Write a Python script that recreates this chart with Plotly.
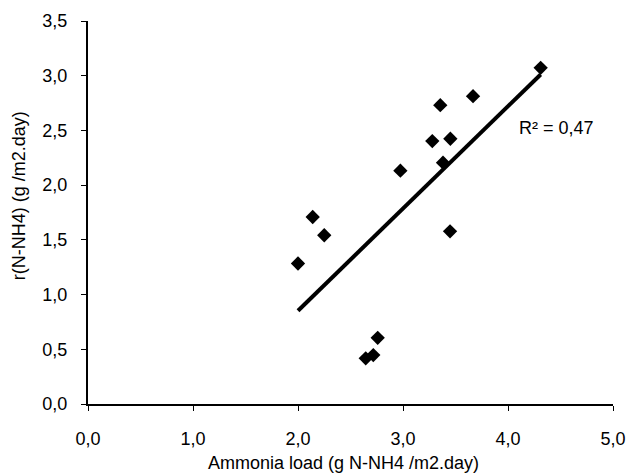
import numpy as np
import plotly.graph_objects as go

# Ammonia load (g N-NH4 /m2.day) and removal rate r(N-NH4) (g /m2.day)
ammonia_load = [2.00, 2.14, 2.25, 2.645, 2.717, 2.759, 2.975, 3.279, 3.355, 3.381, 3.451, 3.448, 3.667, 4.311]
removal_rate = [1.284, 1.709, 1.542, 0.417, 0.447, 0.605, 2.132, 2.403, 2.731, 2.205, 2.424, 1.578, 2.813, 3.072]

x_ticks = [0, 1, 2, 3, 4, 5]
y_ticks = [0, 0.5, 1.0, 1.5, 2.0, 2.5, 3.0, 3.5]

x_title = "Ammonia load (g N-NH4 /m2.day)"
y_title = "r(N-NH4) (g /m2.day)"

x = np.array(ammonia_load)
y = np.array(removal_rate)

# Linear trend line and coefficient of determination
slope, intercept = np.polyfit(x, y, 1)
pred = slope * x + intercept
r2 = 1 - np.sum((y - pred) ** 2) / np.sum((y - y.mean()) ** 2)
x_fit = np.array([x.min(), x.max()])
y_fit = slope * x_fit + intercept

FONT = "Liberation Sans, Arial, sans-serif"
TXT = dict(family=FONT, size=18, color="black")

fig = go.Figure()
fig.add_trace(go.Scatter(
    x=x_fit, y=y_fit, mode="lines",
    line=dict(color="black", width=4),
    hoverinfo="skip", showlegend=False,
))
fig.add_trace(go.Scatter(
    x=ammonia_load, y=removal_rate, mode="markers",
    marker=dict(symbol="diamond", size=11, color="black"),
    showlegend=False,
))

fig.add_annotation(
    x=4.086, y=2.52, xref="x", yref="y",
    text=f"R² = {r2:.2f}".replace(".", ","),
    showarrow=False, xanchor="left", yanchor="middle", font=TXT,
)

# Axis titles placed as annotations in paper coordinates
fig.add_annotation(
    x=0.486, y=-0.154, xref="paper", yref="paper",
    text=x_title, showarrow=False, xanchor="center", yanchor="middle", font=TXT,
)
fig.add_annotation(
    x=-0.131, y=0.543, xref="paper", yref="paper",
    text=y_title, textangle=-90, showarrow=False,
    xanchor="center", yanchor="middle", font=TXT,
)

axis_common = dict(
    showgrid=False, zeroline=False, automargin=False,
    showline=True, linecolor="black", linewidth=2,
    ticks="outside", ticklen=5, tickwidth=1, tickcolor="black",
    tickfont=TXT, tickformat=".1f",
)

fig.update_xaxes(range=[0, 5], tickvals=x_ticks, ticklabelstandoff=12, **axis_common)
fig.update_yaxes(range=[0, 3.5], tickvals=y_ticks, ticklabelstandoff=10, **axis_common)

fig.update_layout(
    width=628, height=473, autosize=False,
    margin=dict(l=88, r=15, t=21, b=69),
    paper_bgcolor="white", plot_bgcolor="white",
    separators=",.",
    font=TXT,
)

fig.write_html("out.html")
